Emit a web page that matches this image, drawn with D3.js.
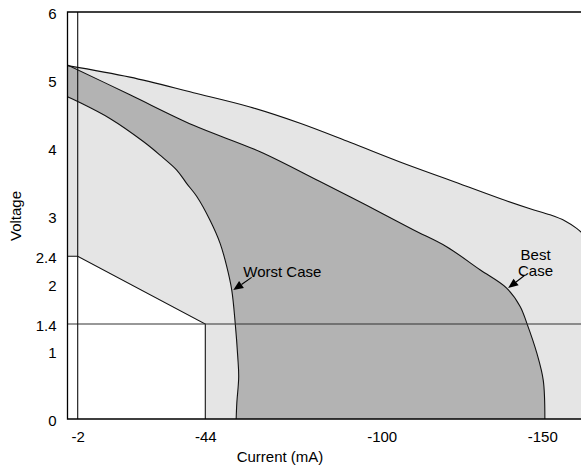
<!DOCTYPE html>
<html><head><meta charset="utf-8">
<script src="https://cdn.jsdelivr.net/npm/d3@7"></script>
<style>
body{margin:0;background:#fff}
svg{display:block}
text{font-family:"Liberation Sans",Arial,Helvetica,sans-serif;fill:#000}
</style>
</head><body><svg id="chart" width="581" height="471"></svg>
<script>
// Axis ticks
const xTicks = [-2, -44, -100, -150];
const yTicks = [0, 1, 1.4, 2, 2.4, 3, 4, 5, 6];

// Outer limit of the output characteristic (top of the light band)
const outerCurrent = [0, -19.2, -40.1, -58.2, -74.1, -89.9, -105.7, -121.3, -136.8, -146.2, -152.4, -157.1, -160.7, -164.7];
const outerVoltage = [5.21, 5.04, 4.81, 4.60, 4.36, 4.08, 3.79, 3.52, 3.25, 3.10, 3.01, 2.92, 2.81, 2.64];

// Best case output characteristic
const bestCurrent = [0, -19.2, -40.1, -61.4, -80.4, -95.2, -109.8, -120.2, -130.6, -138.9, -143.1, -145.2, -148.3, -150.3, -150.8];
const bestVoltage = [5.22, 4.78, 4.33, 3.94, 3.50, 3.15, 2.79, 2.54, 2.20, 1.93, 1.66, 1.41, 0.97, 0.57, 0];

// Worst case output characteristic
const worstCurrent = [0, -2, -12.6, -23.6, -29.1, -34.6, -37.9, -41.2, -45.5, -48.7, -50.8, -52.4, -53.5, -54.3, -54.6, -54.0, -53.8];
const worstVoltage = [4.75, 4.68, 4.43, 4.09, 3.89, 3.67, 3.47, 3.28, 2.93, 2.59, 2.25, 1.90, 1.41, 0.92, 0.62, 0.23, 0];

// Load line bounding the excluded corner
const kneeCurrent = [0, -2, -44, -44];
const kneeVoltage = [2.4, 2.4, 1.4, 0];

// Reference levels
const refVoltage = 1.4;
const refCurrent = -2;

// Callouts: label and the curve point they point to
const calloutLabels = [["Worst Case"], ["Best", "Case"]];
const calloutCurrent = [-52.4, -138.9];
const calloutVoltage = [1.90, 1.93];

const svg = d3.select("#chart");
const L = 67.5, T = 12, R = 581, B = 419;

const x = d3.scaleLinear().domain([0, -2, -44, -100, -150]).range([L, 77.7, 205.3, 381.7, 542.3]);
const y = d3.scaleLinear().domain([0, 6]).range([B, T]);

const zip = (a, b) => a.map((v, i) => [v, b[i]]);
const outer = zip(outerCurrent, outerVoltage);
const best = zip(bestCurrent, bestVoltage);
const worst = zip(worstCurrent, worstVoltage);
const knee = zip(kneeCurrent, kneeVoltage);

const curve = d3.line().x(d => x(d[0])).y(d => y(d[1])).curve(d3.curveCatmullRom.alpha(0.5));
const poly = d3.line().x(d => x(d[0])).y(d => y(d[1]));

svg.append("defs").append("clipPath").attr("id", "plot")
  .append("rect").attr("x", L).attr("y", T).attr("width", R - L).attr("height", B - T);

const g = svg.append("g").attr("clip-path", "url(#plot)");

// light band: below the outer limit, outside the excluded corner
const lastOuter = outer[outer.length - 1];
const lightPts = [[lastOuter[0], 0]].concat(knee.slice().reverse());
g.append("path")
  .attr("d", curve(outer) + poly(lightPts).replace(/^M/, "L") + "Z")
  .attr("fill", "#e5e5e5");

// dark band: between best and worst case
g.append("path")
  .attr("d", curve(best) + curve(worst.slice().reverse()).replace(/^M/, "L") + "Z")
  .attr("fill", "#b3b3b3");

// curve outlines
[outer, best, worst].forEach(pts => {
  g.append("path").attr("d", curve(pts)).attr("fill", "none")
    .attr("stroke", "#111").attr("stroke-width", 1.1);
});

// excluded corner outline
g.append("path").attr("d", poly(knee)).attr("fill", "none")
  .attr("stroke", "#111").attr("stroke-width", 1.1);

// reference lines
g.append("line").attr("x1", L).attr("x2", R).attr("y1", y(refVoltage)).attr("y2", y(refVoltage))
  .attr("stroke", "#333").attr("stroke-width", 1.1);
g.append("line").attr("x1", x(refCurrent)).attr("x2", x(refCurrent)).attr("y1", T).attr("y2", B)
  .attr("stroke", "#111").attr("stroke-width", 1.1);

// frame: top, left, bottom
svg.append("path")
  .attr("d", `M${R},${T}H${L}V${B}H${R}`)
  .attr("fill", "none").attr("stroke", "#000").attr("stroke-width", 1.3);

// axes (labels only)
const yAxis = svg.append("g").attr("transform", `translate(${L},0)`)
  .call(d3.axisLeft(y).tickValues(yTicks).tickSize(0).tickPadding(11).tickFormat(d3.format("")));
const xAxis = svg.append("g").attr("transform", `translate(0,${B})`)
  .call(d3.axisBottom(x).tickValues(xTicks).tickSize(0).tickPadding(12).tickFormat(d3.format("")));
[yAxis, xAxis].forEach(a => {
  a.select(".domain").remove();
  a.selectAll("text").attr("font-size", 15).attr("font-family", null).style("fill", "#000");
});
yAxis.selectAll("text").attr("dy", "0.45em");
xAxis.selectAll("text").text(d => d3.format("")(d).replace("−", "-"));
yAxis.selectAll("text").text(d => String(d));

svg.append("text").attr("x", 280).attr("y", 462).attr("text-anchor", "middle")
  .attr("font-size", 15).text("Current (mA)");
svg.append("text").attr("transform", "translate(21,216) rotate(-90)").attr("text-anchor", "middle")
  .attr("font-size", 15).text("Voltage");

// callouts with arrows
const arrowTail = [[18.4, -12.7], [16, -12.3]];
const textOffset = [[10, -13], [27.4, -28.3]];
const textAnchor = ["start", "middle"];
calloutLabels.forEach((lines, i) => {
  const tx = x(calloutCurrent[i]) + 1.5, ty = y(calloutVoltage[i]);
  const sx = tx + arrowTail[i][0], sy = ty + arrowTail[i][1];
  const ang = Math.atan2(ty - sy, tx - sx);
  const hl = 10, hw = 4.2;
  const bx = tx - hl * Math.cos(ang), by = ty - hl * Math.sin(ang);
  svg.append("line").attr("x1", sx).attr("y1", sy).attr("x2", bx).attr("y2", by)
    .attr("stroke", "#000").attr("stroke-width", 1.1);
  svg.append("path")
    .attr("d", `M${tx},${ty}L${bx + hw * Math.sin(ang)},${by - hw * Math.cos(ang)}L${bx - hw * Math.sin(ang)},${by + hw * Math.cos(ang)}Z`)
    .attr("fill", "#000");
  const t = svg.append("text").attr("font-size", 15).attr("text-anchor", textAnchor[i]);
  lines.forEach((s, j) => {
    t.append("tspan").attr("x", tx + textOffset[i][0]).attr("y", ty + textOffset[i][1] + j * 16).text(s);
  });
});
</script>
</body></html>
